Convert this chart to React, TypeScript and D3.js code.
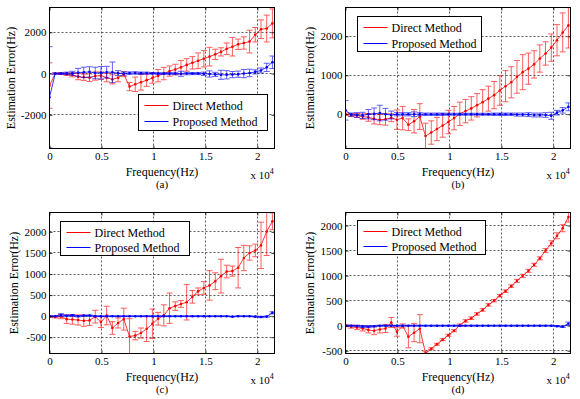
import { useEffect, useRef } from 'react'
import * as d3 from 'd3'

// frequency points (Hz)
const frequencies = [
  0, 550, 1100, 1650, 2200, 2750, 3300, 3850, 4400, 4950, 5500, 6050, 6600, 7150, 7700, 8250, 8800, 9350, 9900,
  10450, 11000, 11550, 12100, 12650, 13200, 13750, 14300, 14850, 15400, 15950, 16500, 17050, 17600, 18150, 18700,
  19250, 19800, 20350, 20900, 21450,
]
const xTicks = [0, 5000, 10000, 15000, 20000]

// (a)
const directA = [
  -580, 0, 0, -30, -60, -150, -180, -200, -120, -100, -200, -280, -200, -30, -630, -520, -420, -320, -220, -100, 0,
  120, 200, 300, 420, 520, 620, 720, 820, 930, 1050, 1200, 1300, 1420, 1480, 1550, 1880, 2150, 2180, 2430,
]
const directErrA = [
  1100, 30, 40, 60, 100, 150, 150, 180, 200, 180, 200, 220, 200, 120, 200, 350, 380, 300, 250, 300, 300, 250, 250,
  330, 300, 300, 380, 400, 450, 250, 200, 280, 450, 250, 300, 550, 350, 450, 650, 700,
]
const proposedA = [
  -1150, 0, 0, 10, 10, 50, 60, 80, 30, 40, 70, 60, 20, 0, 20, 30, 20, 20, 10, 0, 0, 0, 0, -10, 0, 0, 0, -10, -20,
  -40, -60, -60, -50, -30, 0, 30, 80, 150, 300, 550,
]
const proposedErrA = [
  2450, 30, 40, 60, 100, 200, 250, 250, 280, 300, 280, 500, 120, 80, 60, 60, 50, 50, 40, 50, 40, 50, 60, 120, 60, 50,
  50, 80, 150, 100, 220, 200, 150, 150, 200, 180, 100, 120, 200, 300,
]

// (b)
const directB = [
  0, -20, -30, -60, -80, -120, -140, -130, -90, -140, -100, -270, -180, -60, -560, -470, -380, -290, -200, -100, 10,
  80, 150, 230, 310, 400, 490, 610, 720, 820, 960, 1080, 1170, 1280, 1430, 1560, 1710, 1900, 2100, 2280,
]
const directErrB = [
  30, 40, 50, 70, 100, 130, 130, 150, 100, 250, 300, 150, 300, 330, 330, 300, 300, 300, 300, 300, 300, 300, 300, 300,
  320, 320, 350, 380, 400, 400, 420, 450, 400, 350, 350, 300, 350, 400, 500, 580,
]
const proposedB = [
  100, -10, -20, -30, 0, 10, 30, 0, -20, 0, 0, 0, 0, 0, 0, 0, 0, 0, 0, 0, 0, 0, 0, 0, 0, 0, 0, 0, 0, 0, -10, -10,
  -10, -20, -20, -20, -40, 40, 100, 190,
]
const proposedErrB = [
  250, 40, 60, 80, 120, 150, 200, 150, 100, 40, 40, 40, 60, 40, 30, 30, 30, 30, 25, 25, 25, 25, 25, 25, 25, 25, 30,
  30, 30, 30, 40, 40, 50, 50, 50, 60, 90, 60, 70, 100,
]

// (c)
const directC = [
  -10, -20, -10, -70, -80, -90, -110, -100, -10, -140, 15, -280, -160, -70, -480, -460, -400, -300, -180, -60, 20,
  190, 240, 290, 330, 460, 590, 670, 730, 830, 950, 1060, 1070, 1150, 1380, 1500, 1560, 1680, 2010, 2250,
]
const directErrC = [
  20, 20, 50, 100, 110, 120, 130, 120, 150, 130, 220, 150, 120, 260, 420, 100, 120, 300, 350, 150, 250, 360, 100, 80,
  420, 150, 80, 150, 350, 200, 400, 150, 120, 480, 300, 170, 150, 550, 570, 200,
]
const proposedC = [
  0, 0, 30, 10, 20, 0, 15, 15, 0, 0, 0, 0, 0, 0, 0, 0, 0, 0, 0, 0, 0, 0, 0, 0, 0, 0, 0, 0, 0, 0, 0, 0, -10, 0, 0, 0,
  -10, -20, -10, 80,
]
const proposedErrC = [
  10, 10, 30, 20, 20, 15, 15, 15, 10, 10, 10, 10, 10, 10, 10, 10, 10, 10, 10, 10, 10, 10, 10, 10, 10, 10, 10, 10, 10,
  10, 10, 10, 10, 10, 10, 10, 15, 15, 15, 25,
]

// (d)
const directD = [
  0, -20, -35, -55, -85, -100, -75, -55, 65, -120, -5, -220, -140, -60, -550, -460, -370, -280, -190, -100, 10, 95,
  150, 235, 315, 415, 500, 600, 690, 790, 895, 995, 1095, 1215, 1345, 1500, 1645, 1795, 1945, 2170,
]
const directErrD = [
  20, 30, 40, 50, 60, 80, 70, 80, 100, 90, 40, 220, 180, 280, 30, 20, 20, 20, 20, 20, 25, 25, 25, 25, 25, 25, 25, 25,
  25, 25, 30, 30, 30, 30, 30, 40, 50, 60, 70, 100,
]
const proposedD = [
  0, 0, -5, -15, -20, -10, 0, 0, 0, 0, 0, 0, 0, 0, 0, 0, 0, 0, 0, 0, 0, 0, 0, 0, 0, 0, 0, 0, 0, 0, 0, 0, 0, 0, 0, 0,
  0, -10, -20, 40,
]
const proposedErrD = [
  10, 10, 15, 20, 20, 15, 10, 10, 10, 10, 10, 10, 10, 10, 10, 10, 10, 10, 10, 10, 10, 10, 10, 10, 10, 10, 10, 10, 10,
  10, 10, 10, 10, 10, 10, 10, 10, 10, 15, 30,
]

const yTicksA = [-2000, 0, 2000]
const yTicksB = [0, 1000, 2000]
const yTicksC = [-500, 0, 500, 1000, 1500, 2000]
const yTicksD = [-500, 0, 500, 1000, 1500, 2000]

const legendLabels = ['Direct Method', 'Proposed Method']
const panelLabels = ['(a)', '(b)', '(c)', '(d)']
const xLabel = 'Frequency(Hz)'
const yLabel = 'Estimation Error(Hz)'

const RED = '#ff0000'
const BLUE = '#0000ff'
const FONT = 'Liberation Serif, Times New Roman, serif'

const W = 580
const H = 399

const App = () => {
  const svgRef = useRef(null)

  useEffect(() => {
    const panels = [
      {
        direct: directA, directErr: directErrA, proposed: proposedA, proposedErr: proposedErrA,
        yDomain: [-3630, 3200], yTicks: yTicksA, left: 49.5, top: 7.5, yLabelX: 14.5,
        legend: { x: 138.5, y: 94.5, w: 129, h: 36 },
      },
      {
        direct: directB, directErr: directErrB, proposed: proposedB, proposedErr: proposedErrB,
        yDomain: [-880, 2740], yTicks: yTicksB, left: 345.5, top: 7.5, yLabelX: 314,
        legend: { x: 357.5, y: 16.5, w: 124, h: 35 },
      },
      {
        direct: directC, directErr: directErrC, proposed: proposedC, proposedErr: proposedErrC,
        yDomain: [-885, 2460], yTicks: yTicksC, left: 49.5, top: 212.5, yLabelX: 17.5,
        legend: { x: 60.5, y: 221.5, w: 129, h: 34 },
      },
      {
        direct: directD, directErr: directErrD, proposed: proposedD, proposedErr: proposedErrD,
        yDomain: [-555, 2260], yTicks: yTicksD, left: 345.5, top: 212.5, yLabelX: 314,
        legend: { x: 357.5, y: 220.5, w: 128, h: 34 },
      },
    ]
    const pw = 225
    const ph = 141

    const svgEl = d3.select(svgRef.current)
    svgEl.selectAll('*').remove()
    svgEl.append('rect').attr('width', W).attr('height', H).attr('fill', '#fff')

    panels.forEach((p, pi) => {
      const x = d3.scaleLinear([0, 21650], [0, pw])
      const y = d3.scaleLinear(p.yDomain, [ph, 0])
      const g = svgEl.append('g').attr('transform', `translate(${p.left},${p.top})`)
      const clipId = `clip-${pi}`
      g.append('clipPath').attr('id', clipId).append('rect').attr('width', pw).attr('height', ph)

      // grid
      const grid = g.append('g').attr('stroke', '#333').attr('stroke-width', 0.8).attr('stroke-dasharray', '2,2')
      grid
        .selectAll('line.gx')
        .data(xTicks.filter((t) => x(t) > 1))
        .join('line')
        .attr('x1', (d) => Math.round(x(d)))
        .attr('x2', (d) => Math.round(x(d)))
        .attr('y1', 0)
        .attr('y2', ph)
      grid
        .selectAll('line.gy')
        .data(p.yTicks)
        .join('line')
        .attr('x1', 0)
        .attr('x2', pw)
        .attr('y1', (d) => Math.round(y(d)))
        .attr('y2', (d) => Math.round(y(d)))

      const drawSeries = (values, errs, color) => {
        const pts = frequencies.map((f, i) => ({ f, v: values[i], e: errs[i] }))
        const sg = g.append('g').attr('clip-path', `url(#${clipId})`)
        const bars = sg.append('g').attr('stroke', color).attr('stroke-width', 0.9).attr('opacity', 0.7)
        bars
          .selectAll('line.stem')
          .data(pts)
          .join('line')
          .attr('x1', (d) => x(d.f))
          .attr('x2', (d) => x(d.f))
          .attr('y1', (d) => y(d.v - d.e))
          .attr('y2', (d) => y(d.v + d.e))
        bars
          .selectAll('line.capHi')
          .data(pts)
          .join('line')
          .attr('x1', (d) => x(d.f) - 3)
          .attr('x2', (d) => x(d.f) + 3)
          .attr('y1', (d) => y(d.v + d.e))
          .attr('y2', (d) => y(d.v + d.e))
        bars
          .selectAll('line.capLo')
          .data(pts)
          .join('line')
          .attr('x1', (d) => x(d.f) - 3)
          .attr('x2', (d) => x(d.f) + 3)
          .attr('y1', (d) => y(d.v - d.e))
          .attr('y2', (d) => y(d.v - d.e))
        const line = d3
          .line()
          .x((d) => x(d.f))
          .y((d) => y(d.v))
        sg.append('path').attr('d', line(pts)).attr('fill', 'none').attr('stroke', color).attr('stroke-width', 0.8)
        sg.append('g')
          .attr('fill', color)
          .selectAll('circle')
          .data(pts)
          .join('circle')
          .attr('cx', (d) => x(d.f))
          .attr('cy', (d) => y(d.v))
          .attr('r', 1.3)
      }
      drawSeries(p.direct, p.directErr, RED)
      drawSeries(p.proposed, p.proposedErr, BLUE)

      // axes
      const styleAxis = (ax) => {
        ax.attr('font-family', FONT).attr('font-size', 11)
        ax.select('.domain').remove()
        ax.selectAll('.tick line').attr('stroke', '#000').attr('stroke-width', 0.8)
        ax.selectAll('.tick text').attr('fill', '#000')
      }
      g.append('g')
        .attr('transform', `translate(0,${ph})`)
        .call(d3.axisBottom(x).tickValues(xTicks).tickFormat((d) => String(d / 10000)).tickSize(-3).tickPadding(4))
        .call(styleAxis)
      g.append('g')
        .call(d3.axisTop(x).tickValues(xTicks).tickFormat(() => '').tickSize(-3))
        .call(styleAxis)
      g.append('g')
        .call(d3.axisLeft(y).tickValues(p.yTicks).tickFormat((d) => String(d)).tickSize(-3).tickPadding(3))
        .call(styleAxis)
      g.append('g')
        .attr('transform', `translate(${pw},0)`)
        .call(d3.axisRight(y).tickValues(p.yTicks).tickFormat(() => '').tickSize(-3))
        .call(styleAxis)

      g.append('rect')
        .attr('width', pw)
        .attr('height', ph)
        .attr('fill', 'none')
        .attr('stroke', '#000')
        .attr('stroke-width', 1)

      // labels
      g.append('text')
        .attr('x', pw / 2)
        .attr('y', ph + 27)
        .attr('text-anchor', 'middle')
        .attr('font-family', FONT)
        .attr('font-size', 12)
        .text(xLabel)
      const expo = g
        .append('text')
        .attr('x', 201)
        .attr('y', ph + 30)
        .attr('font-family', FONT)
        .attr('font-size', 11)
        .text('x 10')
      expo.append('tspan').attr('dy', -5).attr('font-size', 8).text('4')
      g.append('text')
        .attr('x', pw / 2)
        .attr('y', ph + 39)
        .attr('text-anchor', 'middle')
        .attr('font-family', FONT)
        .attr('font-size', 11)
        .text(panelLabels[pi])
      svgEl
        .append('text')
        .attr('transform', `translate(${p.yLabelX},${p.top + ph / 2}) rotate(-90)`)
        .attr('text-anchor', 'middle')
        .attr('font-family', FONT)
        .attr('font-size', 12)
        .text(yLabel)

      // legend
      const lg = svgEl.append('g').attr('transform', `translate(${p.legend.x},${p.legend.y})`)
      lg.append('rect')
        .attr('width', p.legend.w)
        .attr('height', p.legend.h)
        .attr('fill', '#fff')
        .attr('stroke', '#000')
        .attr('stroke-width', 1)
      ;[RED, BLUE].forEach((c, li) => {
        const cy = Math.round(p.legend.h * (li === 0 ? 0.31 : 0.76))
        lg.append('line')
          .attr('x1', 6)
          .attr('x2', 30)
          .attr('y1', cy)
          .attr('y2', cy)
          .attr('stroke', c)
          .attr('stroke-width', 1)
        lg.append('text')
          .attr('x', 34)
          .attr('y', cy + 4)
          .attr('font-family', FONT)
          .attr('font-size', 12)
          .text(legendLabels[li])
      })
    })
  }, [])

  return <svg ref={svgRef} width={W} height={H} style={{ position: 'absolute', left: 0, top: 0 }} />
}

export default App
